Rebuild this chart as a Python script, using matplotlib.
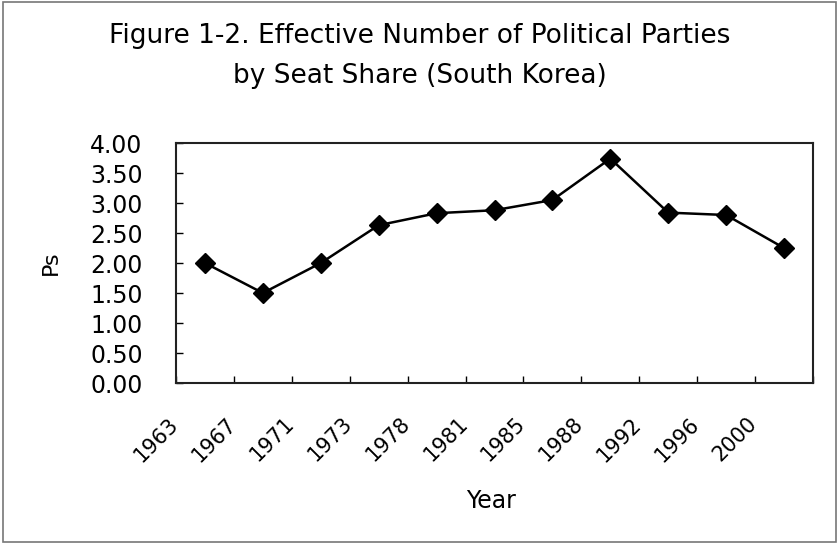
import numpy as np
import matplotlib.pyplot as plt
from matplotlib.patches import Rectangle
from matplotlib.ticker import FormatStrFormatter
from matplotlib.transforms import ScaledTranslation

# wide sans face, close to the spaced-out lettering of the chart
plt.rc('font', family=['DejaVu Sans'])

years = ['1963', '1967', '1971', '1973', '1978', '1981',
         '1985', '1988', '1992', '1996', '2000']
ps = [2.00, 1.50, 2.00, 2.63, 2.83, 2.88, 3.05, 3.74, 2.84, 2.80, 2.25]

fig = plt.figure(figsize=(8.39, 5.45), dpi=100)
ax = fig.add_axes([0.2098, 0.2972, 0.7592, 0.4404])

x = np.arange(len(years))
ax.plot(x, ps, '-', color='black', lw=1.8,
        marker='D', markersize=10, markerfacecolor='black', markeredgecolor='black')

ax.set_xlim(-0.5, len(years) - 0.5)
ax.set_ylim(0, 4)
ax.set_yticks(np.arange(0, 4.01, 0.5))
ax.yaxis.set_major_formatter(FormatStrFormatter('%.2f'))

# category labels in the middle, tick marks on the boundaries
ax.set_xticks(x)
ax.set_xticklabels(years, rotation=45, ha='right', fontsize=15)
ax.set_xticks(np.arange(-0.5, len(years)), minor=True)
ax.tick_params(axis='x', which='major', length=0, pad=22)
ax.tick_params(axis='x', which='minor', direction='in', length=5, width=1)
ax.tick_params(axis='y', direction='in', length=5, width=1, labelsize=17, pad=24)

# slide the slanted year labels a bit to the left
shift = ScaledTranslation(-23 / 100, 0, fig.dpi_scale_trans)
for lab in ax.get_xticklabels():
    lab.set_transform(lab.get_transform() + shift)

for s in ax.spines.values():
    s.set_linewidth(1.5)
    s.set_color('#222222')

ax.set_ylabel('Ps', fontsize=16)
ax.yaxis.set_label_coords(-0.18, 0.5)
ax.set_xlabel('Year', fontsize=17)
ax.xaxis.set_label_coords(0.495, -0.44)

fig.text(0.5, 1 - 43 / 545, 'Figure 1-2. Effective Number of Political Parties',
         ha='center', va='baseline', fontsize=19)
fig.text(0.5, 1 - 83 / 545, 'by Seat Share (South Korea)',
         ha='center', va='baseline', fontsize=19)

# outer chart border
fig.patches.append(Rectangle((0.003, 0.006), 0.993, 0.99, transform=fig.transFigure,
                             fill=False, edgecolor='#777777', lw=1.2))

plt.savefig('out.png', dpi=100)
